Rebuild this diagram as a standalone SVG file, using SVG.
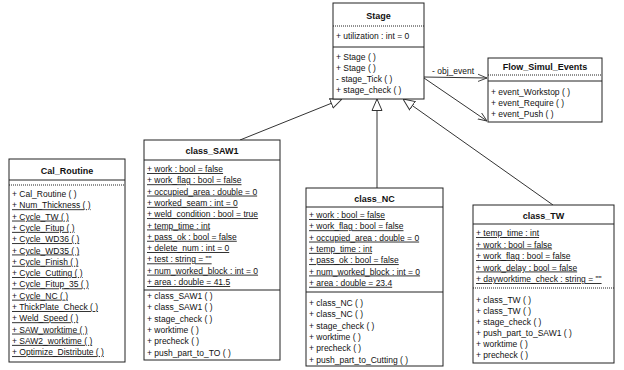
<svg xmlns="http://www.w3.org/2000/svg" width="624" height="370" viewBox="0 0 624 370">
<style>
.box{fill:#fff;stroke:#222;stroke-width:1}
.sep{stroke:#222;stroke-width:1}
.dot{stroke:#222;stroke-width:1;stroke-dasharray:1 1}
.ttl{font-family:"Liberation Sans",Arial,sans-serif;font-size:9px;font-weight:bold;text-anchor:middle;fill:#111}
.t{font-family:"Liberation Sans",Arial,sans-serif;font-size:8.5px;fill:#111}
.u{text-decoration:underline}
.conn{stroke:#333;stroke-width:1;fill:none}
</style>
<defs>
<marker id="gen" viewBox="0 0 12 12" refX="12" refY="6" markerWidth="12" markerHeight="12" orient="auto" markerUnits="userSpaceOnUse"><path d="M0.5,1 L12,6 L0.5,11 Z" fill="#fff" stroke="#333" stroke-width="1"/></marker>
<marker id="arr" viewBox="0 0 10 10" refX="10" refY="5" markerWidth="9" markerHeight="9" orient="auto" markerUnits="userSpaceOnUse"><path d="M0,1 L10,5 L0,9" fill="none" stroke="#333" stroke-width="1"/></marker>
</defs>

<g id="connectors">
<line class="conn" x1="240" y1="140" x2="342" y2="99" marker-end="url(#gen)"/>
<line class="conn" x1="377" y1="188" x2="377" y2="99" marker-end="url(#gen)"/>
<line class="conn" x1="553" y1="205" x2="403" y2="99" marker-end="url(#gen)"/>
<line class="conn" x1="424" y1="77" x2="487" y2="78" marker-end="url(#arr)"/>
<line class="conn" x1="424" y1="78" x2="487" y2="121" marker-end="url(#arr)"/>
<text class="t" x="432" y="74">- obj_event</text>
</g>

<g id="Stage">
<rect class="box" x="333" y="3" width="91" height="96"/>
<text class="ttl" x="378.5" y="19">Stage</text>
<line class="dot" x1="333" y1="26" x2="424" y2="26"/>
<text class="t" x="336" y="39">+ utilization : int = 0</text>
<line class="sep" x1="333" y1="47" x2="424" y2="47"/>
<text class="t" x="336" y="60">+ Stage ( )</text>
<text class="t" x="336" y="71">+ Stage ( )</text>
<text class="t" x="336" y="82">- stage_Tick ( )</text>
<text class="t" x="336" y="93">+ stage_check ( )</text>
</g>

<g id="Flow_Simul_Events">
<rect class="box" x="488" y="58" width="114" height="64"/>
<text class="ttl" x="545" y="70">Flow_Simul_Events</text>
<line class="dot" x1="488" y1="75" x2="602" y2="75"/>
<line class="sep" x1="488" y1="81" x2="602" y2="81"/>
<text class="t" x="491" y="95">+ event_Workstop ( )</text>
<text class="t" x="491" y="106">+ event_Require ( )</text>
<text class="t" x="491" y="117">+ event_Push ( )</text>
</g>

<g id="Cal_Routine">
<rect class="box" x="9" y="159" width="116" height="203"/>
<text class="ttl" x="67" y="174">Cal_Routine</text>
<line class="sep" x1="9" y1="180" x2="125" y2="180"/>
<line class="dot" x1="9" y1="185" x2="125" y2="185"/>
<text class="t" x="12" y="197">+ Cal_Routine ( )</text>
<text class="t u" x="12" y="208.3">+ Num_Thickness ( )</text>
<text class="t u" x="12" y="219.6">+ Cycle_TW ( )</text>
<text class="t u" x="12" y="230.9">+ Cycle_Fitup ( )</text>
<text class="t u" x="12" y="242.2">+ Cycle_WD36 ( )</text>
<text class="t u" x="12" y="253.5">+ Cycle_WD35 ( )</text>
<text class="t u" x="12" y="264.8">+ Cycle_Finish ( )</text>
<text class="t u" x="12" y="276.1">+ Cycle_Cutting ( )</text>
<text class="t u" x="12" y="287.4">+ Cycle_Fitup_35 ( )</text>
<text class="t u" x="12" y="298.7">+ Cycle_NC ( )</text>
<text class="t u" x="12" y="310">+ ThickPlate_Check ( )</text>
<text class="t u" x="12" y="321.3">+ Weld_Speed ( )</text>
<text class="t u" x="12" y="332.6">+ SAW_worktime ( )</text>
<text class="t u" x="12" y="343.9">+ SAW2_worktime ( )</text>
<text class="t u" x="12" y="355.2">+ Optimize_Distribute ( )</text>
</g>

<g id="class_SAW1">
<rect class="box" x="144" y="140" width="136" height="220"/>
<text class="ttl" x="212" y="154">class_SAW1</text>
<line class="sep" x1="144" y1="160" x2="280" y2="160"/>
<text class="t u" x="147" y="172">+ work : bool = false</text>
<text class="t u" x="147" y="183.3">+ work_flag : bool = false</text>
<text class="t u" x="147" y="194.6">+ occupied_area : double = 0</text>
<text class="t u" x="147" y="205.9">+ worked_seam : int = 0</text>
<text class="t u" x="147" y="217.2">+ weld_condition : bool = true</text>
<text class="t u" x="147" y="228.5">+ temp_time : int</text>
<text class="t u" x="147" y="239.8">+ pass_ok : bool = false</text>
<text class="t u" x="147" y="251.1">+ delete_num : int = 0</text>
<text class="t u" x="147" y="262.4">+ test : string = ""</text>
<text class="t u" x="147" y="273.7">+ num_worked_block : int = 0</text>
<text class="t u" x="147" y="285">+ area : double = 41.5</text>
<line class="sep" x1="144" y1="290" x2="280" y2="290"/>
<text class="t" x="147" y="299">+ class_SAW1 ( )</text>
<text class="t" x="147" y="310.3">+ class_SAW1 ( )</text>
<text class="t" x="147" y="321.6">+ stage_check ( )</text>
<text class="t" x="147" y="332.9">+ worktime ( )</text>
<text class="t" x="147" y="344.2">+ precheck ( )</text>
<text class="t" x="147" y="355.5">+ push_part_to_TO ( )</text>
</g>

<g id="class_NC">
<rect class="box" x="306" y="188" width="137" height="178"/>
<text class="ttl" x="374.5" y="202">class_NC</text>
<line class="sep" x1="306" y1="207" x2="443" y2="207"/>
<text class="t u" x="309" y="218">+ work : bool = false</text>
<text class="t u" x="309" y="229.3">+ work_flag : bool = false</text>
<text class="t u" x="309" y="240.6">+ occupied_area : double = 0</text>
<text class="t u" x="309" y="251.9">+ temp_time : int</text>
<text class="t u" x="309" y="263.2">+ pass_ok : bool = false</text>
<text class="t u" x="309" y="274.5">+ num_worked_block : int = 0</text>
<text class="t u" x="309" y="285.8">+ area : double = 23.4</text>
<line class="sep" x1="306" y1="292" x2="443" y2="292"/>
<text class="t" x="309" y="306">+ class_NC ( )</text>
<text class="t" x="309" y="317.3">+ class_NC ( )</text>
<text class="t" x="309" y="328.6">+ stage_check ( )</text>
<text class="t" x="309" y="339.9">+ worktime ( )</text>
<text class="t" x="309" y="351.2">+ precheck ( )</text>
<text class="t" x="309" y="362.5">+ push_part_to_Cutting ( )</text>
</g>

<g id="class_TW">
<rect class="box" x="473" y="205" width="141" height="158"/>
<text class="ttl" x="543.5" y="219">class_TW</text>
<line class="sep" x1="473" y1="224" x2="614" y2="224"/>
<text class="t u" x="476" y="236">+ temp_time : int</text>
<text class="t u" x="476" y="247.5">+ work : bool = false</text>
<text class="t u" x="476" y="259">+ work_flag : bool = false</text>
<text class="t u" x="476" y="270.5">+ work_delay : bool = false</text>
<text class="t u" x="476" y="282">+ dayworktime_check : string = ""</text>
<line class="dot" x1="473" y1="288" x2="614" y2="288"/>
<text class="t" x="476" y="303">+ class_TW ( )</text>
<text class="t" x="476" y="314">+ class_TW ( )</text>
<text class="t" x="476" y="325">+ stage_check ( )</text>
<text class="t" x="476" y="336">+ push_part_to_SAW1 ( )</text>
<text class="t" x="476" y="347">+ worktime ( )</text>
<text class="t" x="476" y="358">+ precheck ( )</text>
</g>
</svg>
